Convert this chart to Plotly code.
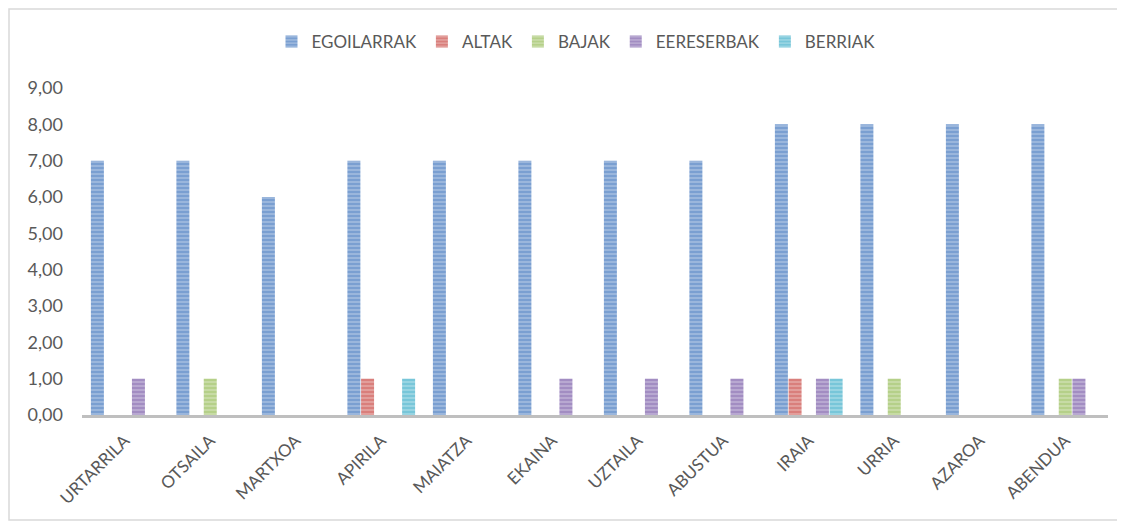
import plotly.graph_objects as go

months = ["URTARRILA", "OTSAILA", "MARTXOA", "APIRILA", "MAIATZA", "EKAINA",
          "UZTAILA", "ABUSTUA", "IRAIA", "URRIA", "AZAROA", "ABENDUA"]
egoilarrak = [7, 7, 6, 7, 7, 7, 7, 7, 8, 8, 8, 8]
altak =      [0, 0, 0, 1, 0, 0, 0, 0, 1, 0, 0, 0]
bajak =      [0, 1, 0, 0, 0, 0, 0, 0, 0, 1, 0, 1]
eereserbak = [1, 0, 0, 0, 0, 1, 1, 1, 1, 0, 0, 1]
berriak =    [0, 0, 0, 1, 0, 0, 0, 0, 1, 0, 0, 0]

series = [
    ("EGOILARRAK", egoilarrak, "#7A9FD1"),
    ("ALTAK", altak, "#D97F7C"),
    ("BAJAK", bajak, "#B5D089"),
    ("EERESERBAK", eereserbak, "#A28DC2"),
    ("BERRIAK", berriak, "#78C6D9"),
]

fig = go.Figure()
for name, vals, col in series:
    fig.add_trace(go.Bar(
        name=name, x=months, y=[v if v else None for v in vals],
        marker=dict(color=col, line=dict(width=0),
                    pattern=dict(shape="-", fgcolor="rgba(255,255,255,1)",
                                 fgopacity=0.4, size=4, solidity=0.3)),
    ))

OFF = 8  # page body margin
W, H = 1117, 517
L = 82 - OFF
R = W - (1108 - OFF)
T = 88 - OFF
B = H - (415 - OFF)
pw, ph = W - L - R, H - T - B

def px_x(x):
    return (x - OFF - L) / pw

def px_y(y):
    return ((415 - OFF) - (y - OFF)) / ph

fig.update_layout(
    width=W, height=H,
    margin=dict(l=L, r=R, t=T, b=B),
    barmode="group", bargap=0.2, bargroupgap=0.05,
    separators=",.",
    paper_bgcolor="white", plot_bgcolor="white",
    font=dict(family="Lato, 'Open Sans', sans-serif", color="#595959", size=16),
    legend=dict(orientation="h", x=px_x(576), xanchor="center",
                y=px_y(42), yanchor="middle",
                font=dict(size=17), itemwidth=30, traceorder="normal"),
    xaxis=dict(showline=True, linecolor="#BFBFBF", linewidth=3, tickangle=-45,
               ticks="", tickfont=dict(size=17), showgrid=False,
               ticklabelstandoff=6),
    yaxis=dict(range=[0, 9], dtick=1, tickformat=".2f", showgrid=False,
               zeroline=False, showline=False, ticks="",
               tickfont=dict(size=18), ticklabelstandoff=18),
    shapes=[dict(type="rect", xref="paper", yref="paper",
                 x0=px_x(9), x1=px_x(1119),
                 y0=px_y(520), y1=px_y(9),
                 line=dict(color="#D9D9D9", width=1.5), layer="below")],
)

fig.write_html("out.html")
